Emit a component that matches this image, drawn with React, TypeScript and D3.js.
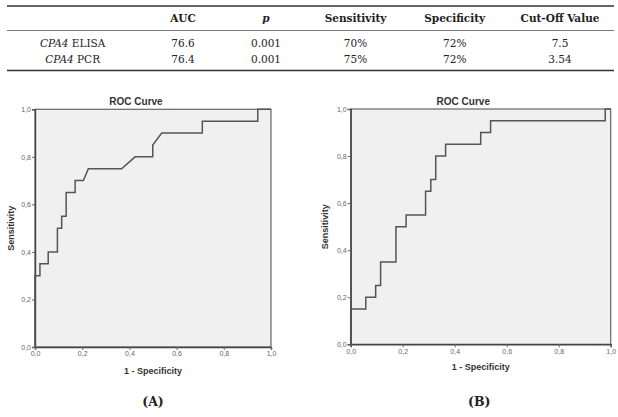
import React, { useRef, useEffect } from "react";
import * as d3 from "d3";

// table contents
const columns = ["AUC", "p", "Sensitivity", "Specificity", "Cut-Off Value"];
const markers = ["ELISA", "PCR"];
const aucValues = ["76.6", "76.4"];
const pValues = ["0.001", "0.001"];
const sensitivityValues = ["70%", "75%"];
const specificityValues = ["72%", "72%"];
const cutOffValues = ["7.5", "3.54"];

// ROC curve (A): CPA4 ELISA
const rocA_fpr = [0, 0, 0.021, 0.021, 0.056, 0.056, 0.095, 0.095, 0.113, 0.113, 0.132, 0.132, 0.17, 0.17, 0.205, 0.226, 0.367, 0.424, 0.499, 0.499, 0.537, 0.709, 0.709, 0.944, 0.944, 1];
const rocA_tpr = [0, 0.3, 0.3, 0.35, 0.35, 0.4, 0.4, 0.5, 0.5, 0.55, 0.55, 0.65, 0.65, 0.7, 0.7, 0.75, 0.75, 0.8, 0.8, 0.85, 0.9, 0.9, 0.95, 0.95, 1, 1];

// ROC curve (B): CPA4 PCR
const rocB_fpr = [0, 0, 0.058, 0.058, 0.096, 0.096, 0.115, 0.115, 0.174, 0.174, 0.213, 0.213, 0.288, 0.288, 0.308, 0.308, 0.327, 0.327, 0.365, 0.365, 0.5, 0.5, 0.538, 0.538, 0.979, 0.979, 1];
const rocB_tpr = [0, 0.15, 0.15, 0.2, 0.2, 0.25, 0.25, 0.35, 0.35, 0.5, 0.5, 0.55, 0.55, 0.65, 0.65, 0.7, 0.7, 0.8, 0.8, 0.85, 0.85, 0.9, 0.9, 0.95, 0.95, 1, 1];

const axisTicks = [0, 0.2, 0.4, 0.6, 0.8, 1.0];

const serif = "'DejaVu Serif', serif";
const sans = "'Liberation Sans', Arial, sans-serif";

function App() {
  const svgRef = useRef(null);

  const drawTable = (svg) => {
    const g = svg.append("g");
    const colX = [183, 266, 355.5, 454.7, 560];
    const stubX = 72.7;

    g.append("line").attr("x1", 7).attr("x2", 614).attr("y1", 6).attr("y2", 6)
      .attr("stroke", "#333").attr("stroke-width", 1.6);
    g.append("line").attr("x1", 7).attr("x2", 614).attr("y1", 30.5).attr("y2", 30.5)
      .attr("stroke", "#555").attr("stroke-width", 0.8);
    g.append("line").attr("x1", 7).attr("x2", 614).attr("y1", 70.5).attr("y2", 70.5)
      .attr("stroke", "#333").attr("stroke-width", 1.6);

    g.selectAll("text.head")
      .data(columns)
      .enter()
      .append("text")
      .attr("class", "head")
      .attr("x", (d, i) => colX[i])
      .attr("y", 22)
      .attr("text-anchor", "middle")
      .attr("font-family", serif)
      .attr("font-size", 10.5)
      .attr("font-weight", "bold")
      .attr("font-style", (d) => (d === "p" ? "italic" : "normal"))
      .attr("fill", "#222")
      .text((d) => d);

    const rows = markers.map((m, i) => [aucValues[i], pValues[i], sensitivityValues[i], specificityValues[i], cutOffValues[i]]);
    const rowY = [46.5, 63];

    rows.forEach((row, r) => {
      const label = g.append("text")
        .attr("x", stubX)
        .attr("y", rowY[r])
        .attr("text-anchor", "middle")
        .attr("font-family", serif)
        .attr("font-size", 10.5)
        .attr("fill", "#222");
      label.append("tspan").attr("font-style", "italic").text("CPA4");
      label.append("tspan").text(" " + markers[r]);

      g.selectAll(null)
        .data(row)
        .enter()
        .append("text")
        .attr("x", (d, i) => colX[i])
        .attr("y", rowY[r])
        .attr("text-anchor", "middle")
        .attr("font-family", serif)
        .attr("font-size", 10.5)
        .attr("fill", "#222")
        .text((d) => d);
    });
  };

  const drawRoc = (svg, box, fpr, tpr, panel) => {
    const x = d3.scaleLinear().domain([0, 1]).range([box.left, box.right]);
    const y = d3.scaleLinear().domain([0, 1]).range([box.bottom, box.top]);
    const fmt = (d) => d3.format(".1f")(d).replace(".", ",");

    const g = svg.append("g");

    g.append("rect")
      .attr("x", x(0))
      .attr("y", y(1))
      .attr("width", x(1) - x(0))
      .attr("height", y(0) - y(1))
      .attr("fill", "#f0f0f0")
      .attr("stroke", "#666")
      .attr("stroke-width", 1.2);

    const yAxisG = g.append("g")
      .attr("transform", `translate(${x(0)},0)`)
      .call(d3.axisLeft(y).tickValues(axisTicks).tickFormat(fmt).tickSize(3).tickPadding(1));
    const xAxisG = g.append("g")
      .attr("transform", `translate(0,${y(0)})`)
      .call(d3.axisBottom(x).tickValues(axisTicks).tickFormat(fmt).tickSize(3).tickPadding(1.5));

    [yAxisG, xAxisG].forEach((ax) => {
      ax.select(".domain").attr("stroke", "#444").attr("stroke-width", 1.4);
      ax.selectAll(".tick line").attr("stroke", "#666");
      ax.selectAll(".tick text")
        .attr("font-family", sans)
        .attr("font-size", 7)
        .attr("fill", "#666");
    });

    const pts = fpr.map((f, i) => [f, tpr[i]]);
    const line = d3.line().x((d) => x(d[0])).y((d) => y(d[1]));
    g.append("path")
      .attr("d", line(pts))
      .attr("fill", "none")
      .attr("stroke", "#555")
      .attr("stroke-width", 1.5);

    g.append("text")
      .attr("x", panel.titleX)
      .attr("y", 105)
      .attr("text-anchor", "middle")
      .attr("font-family", sans)
      .attr("font-size", 10)
      .attr("font-weight", "bold")
      .attr("fill", "#333")
      .text("ROC Curve");

    g.append("text")
      .attr("transform", `translate(${panel.yLabelX},${(box.top + box.bottom) / 2}) rotate(-90)`)
      .attr("dy", "0.35em")
      .attr("text-anchor", "middle")
      .attr("font-family", sans)
      .attr("font-size", 9)
      .attr("font-weight", "bold")
      .attr("fill", "#333")
      .text("Sensitivity");

    g.append("text")
      .attr("x", (box.left + box.right) / 2)
      .attr("y", panel.xLabelY)
      .attr("dy", "0.35em")
      .attr("text-anchor", "middle")
      .attr("font-family", sans)
      .attr("font-size", 9)
      .attr("font-weight", "bold")
      .attr("fill", "#333")
      .text("1 - Specificity");

    g.append("text")
      .attr("x", panel.tagX)
      .attr("y", 401.5)
      .attr("dy", "0.35em")
      .attr("text-anchor", "middle")
      .attr("font-family", serif)
      .attr("font-size", 12.5)
      .attr("font-weight", "bold")
      .attr("fill", "#222")
      .text(panel.tag);
  };

  useEffect(() => {
    const svg = d3.select(svgRef.current);
    svg.selectAll("*").remove();
    drawTable(svg);
    drawRoc(svg, { left: 35, right: 271, top: 109.3, bottom: 347 }, rocA_fpr, rocA_tpr,
      { titleX: 136, yLabelX: 11, xLabelY: 370.7, tagX: 153, tag: "(A)" });
    drawRoc(svg, { left: 350.7, right: 610.7, top: 109, bottom: 344.3 }, rocB_fpr, rocB_tpr,
      { titleX: 463.3, yLabelX: 325, xLabelY: 366.7, tagX: 479.3, tag: "(B)" });
  });

  return (
    <svg
      ref={svgRef}
      width="618"
      height="417"
      style={{ position: "absolute", left: 0, top: 0, background: "#fff" }}
    ></svg>
  );
}

export default App;
